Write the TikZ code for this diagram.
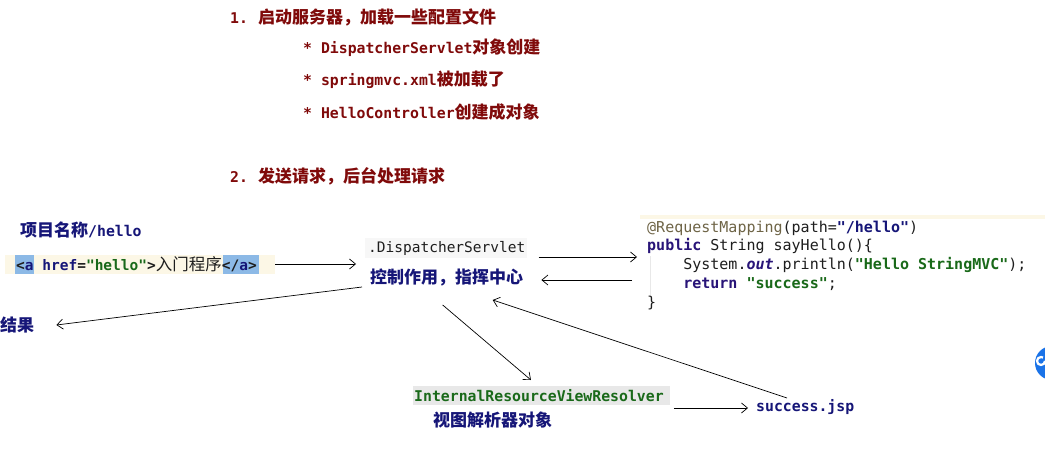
\documentclass[tikz,border=0pt]{standalone}
\usepackage{fontspec}
\usetikzlibrary{arrows.meta}
\newfontfamily\cjkf{Noto Sans CJK SC}
\newfontfamily\pmono{DejaVu Sans Mono}
\newfontfamily\cmono{DejaVu Sans Mono}
\definecolor{dred}{RGB}{128,10,10}
\definecolor{navy}{RGB}{22,22,120}
\definecolor{cream}{RGB}{252,247,230}
\definecolor{hiblue}{RGB}{140,185,230}
\definecolor{dgreen}{RGB}{25,105,25}
\definecolor{anno}{RGB}{110,100,70}
\definecolor{kw}{RGB}{40,20,120}
\definecolor{ink}{RGB}{30,30,30}
\definecolor{lgray}{RGB}{232,232,232}
\definecolor{gblue}{RGB}{26,115,232}
\newcommand\MonoB[1]{{\pmono\bfseries\fontsize{14.8}{18}\selectfont #1}}
\newcommand\CjkB[1]{{\cjkf\bfseries\fontsize{17}{20}\selectfont #1}}
\newcommand\CjkR[1]{{\cjkf\fontsize{16.5}{20}\selectfont #1}}
\newcommand\CodeR[1]{{\cmono\fontsize{15}{18}\selectfont #1}}
\newcommand\CodeB[1]{{\cmono\bfseries\fontsize{15}{18}\selectfont #1}}
\newcommand\CodeS[1]{{\cmono\fontsize{14.5}{18}\selectfont #1}}
\newcommand\CodeSB[1]{{\cmono\bfseries\fontsize{14.5}{18}\selectfont #1}}
\begin{document}
\begin{tikzpicture}[x=1pt,y=-1pt,
  every node/.style={inner sep=0pt,anchor=west},
  arr/.style={-{Straight Barb[length=6pt,width=10pt]},line width=0.7pt,black},
  redtxt/.style={text=dred},
  navytxt/.style={text=navy}]
\useasboundingbox (0,0) rectangle (1045,452);
\fill[white] (0,0) rectangle (1045,452);

% top section
\node[redtxt] (s1) at (230,17) {\MonoB{1.}\hspace{10pt}\CjkB{启动服务器，加载一些配置文件}};
\node[redtxt] (b1) at (303,48) {\MonoB{* DispatcherServlet}\CjkB{对象创建}};
\node[redtxt] (b2) at (303,80) {\MonoB{* springmvc.xml}\CjkB{被加载了}};
\node[redtxt] (b3) at (303,112) {\MonoB{* HelloController}\CjkB{创建成对象}};
\node[redtxt] (s2) at (230,176) {\MonoB{2.}\hspace{10pt}\CjkB{发送请求，后台处理请求}};

% left: link
\node[navytxt] (proj) at (20,230) {\CjkB{项目名称}\MonoB{/hello}};
\fill[cream] (5,255) rectangle (275,274);
\fill[hiblue] (15,255) rectangle (33.5,274);
\fill[hiblue] (223,255) rectangle (258.5,274);
\coordinate (codeend) at (275,264);
\node (link) at (16,264) {\CodeSB{\textcolor{ink}{<}\textcolor{navy}{a} \textcolor{navy}{href}\textcolor{ink}{=}\textcolor{dgreen}{"hello"}\textcolor{ink}{>}}\CjkR{\textcolor{ink}{入门程序}}\CodeSB{\textcolor{ink}{</}\textcolor{navy}{a}\textcolor{ink}{>}}};

% dispatcher
\fill[white!97!black] (365,238) rectangle (527,258);
\node (disp) at (368,248) {\CodeS{\textcolor{ink}{.DispatcherServlet}}};
\node[navytxt] (ctrl) at (370,277) {\CjkB{控制作用，指挥中心}};

% result
\node[navytxt] (res) at (0,325) {\CjkB{结果}};

% controller code
\fill[cream] (640,215) rectangle (1045,219);
\draw[lgray,line width=1pt] (650,256) -- (650,296);
\node (c1) at (647,228) {\CodeR{\textcolor{anno}{@RequestMapping}\textcolor{ink}{(path=}}\CodeB{\textcolor{navy}{"/hello"}}\CodeR{\textcolor{ink}{)}}};
\node (c2) at (647,246) {\CodeB{\textcolor{kw}{public}}\CodeR{ \textcolor{ink}{String sayHello()\{}}};
\node (c3) at (647,265) {\CodeR{\ \ \ \ \textcolor{ink}{System.}}{\cmono\bfseries\itshape\fontsize{15}{18}\selectfont\textcolor{kw}{out}}\CodeR{\textcolor{ink}{.println(}}\CodeB{\textcolor{dgreen}{"Hello StringMVC"}}\CodeR{\textcolor{ink}{);}}};
\node (c4) at (647,284) {\CodeR{\ \ \ \ }\CodeB{\textcolor{kw}{return}}\CodeR{ }\CodeB{\textcolor{dgreen}{"success"}}\CodeR{\textcolor{ink}{;}}};
\node (c5) at (647,303) {\CodeR{\textcolor{ink}{\}}}};

% view resolver
\fill[lgray] (413,386) rectangle (670,405);
\node (irvr) at (414,395.5) {\MonoB{\textcolor{dgreen}{InternalResourceViewResolver}}};
\node[navytxt] (vr) at (433,420) {\CjkB{视图解析器对象}};
\node[navytxt] (jsp) at (756,407) {\MonoB{success.jsp}};

% connectors (yshift is in page points: positive = up)
\draw[arr] (codeend) -- ([xshift=-12pt]codeend -| disp.west);
\draw[arr] ([xshift=13pt,yshift=-9pt]disp.east) -- ([xshift=-10pt,yshift=-9pt]disp.east -| c1.west);
\draw[arr] ([xshift=-15pt,yshift=-3pt]ctrl.east -| c1.west) -- ([xshift=18pt,yshift=-3pt]ctrl.east);
\draw[arr] ([xshift=-8pt,yshift=-10pt]ctrl.west) -- ([xshift=22pt]res.east);
\draw[arr] ([xshift=-4pt,yshift=-28pt]ctrl.center) -- ([xshift=-8pt,yshift=15.5pt]irvr.center);
\draw[arr] ([xshift=31pt,yshift=9pt]jsp.west) -- ([xshift=46pt,yshift=-23pt]ctrl.center);
\draw[arr] ([xshift=10pt,yshift=-12.5pt]irvr.east) -- ([xshift=-8pt,yshift=-1pt]jsp.west);

% corner badge
\begin{scope}
\clip (0,0) rectangle (1045,452);
\fill[gblue] (1052,363) circle (17);
\draw[white,line width=2.2pt] (1045,361) arc[start angle=0,end angle=300,radius=4];
\end{scope}
\end{tikzpicture}
\end{document}
